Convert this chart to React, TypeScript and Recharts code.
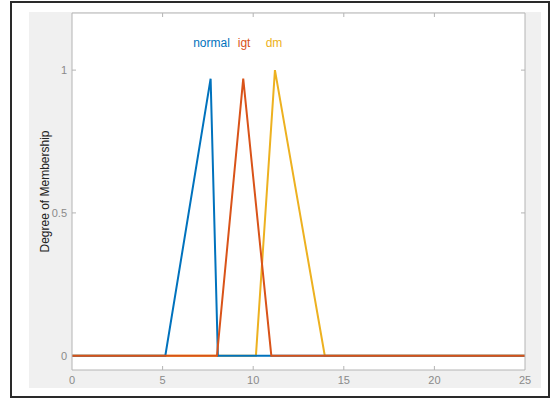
import React from "react";
import { LineChart, Line, XAxis, YAxis, CartesianGrid, ReferenceDot } from "recharts";

// membership functions (x, degree)
const normalX = [0, 5.15, 7.65, 8.05, 25];
const normalY = [0, 0, 0.97, 0, 0];
const igtX = [0, 8.0, 9.45, 11.0, 25];
const igtY = [0, 0, 0.97, 0, 0];
const dmX = [0, 10.15, 11.2, 13.95, 25];
const dmY = [0, 0, 1, 0, 0];

const xTicks = [0, 5, 10, 15, 20, 25];
const yTicks = [0, 0.5, 1];

const mfNames = ["normal", "igt", "dm"];
const mfNameX = [7.7, 9.5, 11.15];
const mfNameY = 1.095;

const BLUE = "#0072BD";
const ORANGE = "#D95319";
const YELLOW = "#EDB120";
const mfColors = [BLUE, ORANGE, YELLOW];

const AXIS = "#b4b4b4";
const TICK_TEXT = "#8a8a8a";

const toPoints = (xs: number[], ys: number[]) => xs.map((x, i) => ({ x, y: ys[i] }));

const normal = toPoints(normalX, normalY);
const igt = toPoints(igtX, igtY);
const dm = toPoints(dmX, dmY);

const inner = (v: number, ends: number[]) => v !== ends[0] && v !== ends[ends.length - 1];

const BottomTick = (props: any) => {
  const { x, y, payload } = props;
  return (
    <g>
      {inner(payload.value, xTicks) && <line x1={x} x2={x} y1={y} y2={y - 4} stroke={AXIS} />}
      <text x={x} y={y + 14} textAnchor="middle" fontSize={11} fill={TICK_TEXT} fontFamily="Liberation Sans, Arial, sans-serif">
        {payload.value}
      </text>
    </g>
  );
};

const TopTick = (props: any) => {
  const { x, y, payload } = props;
  if (!inner(payload.value, xTicks)) return <g />;
  return <line x1={x} x2={x} y1={y} y2={y + 4} stroke={AXIS} />;
};

const LeftTick = (props: any) => {
  const { x, y, payload } = props;
  return (
    <g>
      {payload.value !== 0 && <line x1={x} x2={x + 4} y1={y} y2={y} stroke={AXIS} />}
      <text x={x - 5} y={y + 4} textAnchor="end" fontSize={11} fill={TICK_TEXT} fontFamily="Liberation Sans, Arial, sans-serif">
        {payload.value}
      </text>
    </g>
  );
};

const RightTick = (props: any) => {
  const { x, y, payload } = props;
  if (payload.value === 0) return <g />;
  return <line x1={x} x2={x - 4} y1={y} y2={y} stroke={AXIS} />;
};

export default function App() {
  return (
    <div style={{ position: "absolute", left: 0, top: 0, width: 555, height: 402, background: "#fff" }}>
      <div
        style={{
          position: "absolute",
          left: 10,
          top: 1,
          width: 540,
          height: 397,
          border: "2px solid #2a2a2a",
          boxSizing: "border-box",
        }}
      />
      <div style={{ position: "absolute", left: 29, top: 12, width: 512, height: 376, background: "#f0f0f0" }} />
      <div style={{ position: "absolute", left: 0, top: 0 }}>
        <LineChart width={555} height={402} margin={{ top: 12, right: 28, bottom: 12, left: 32 }}>
          <CartesianGrid fill="#fff" horizontal={false} vertical={false} />
          <XAxis
            dataKey="x"
            type="number"
            domain={[0, 25]}
            ticks={xTicks}
            allowDataOverflow
            height={20}
            stroke={AXIS}
            tickLine={false}
            tickSize={0}
            tickMargin={0}
            tick={<BottomTick />}
          />
          <XAxis
            xAxisId="top"
            orientation="top"
            dataKey="x"
            type="number"
            domain={[0, 25]}
            ticks={xTicks}
            allowDataOverflow
            height={1}
            stroke={AXIS}
            tickLine={false}
            tickSize={0}
            tickMargin={0}
            tick={<TopTick />}
          />
          <YAxis
            type="number"
            domain={[-0.05, 1.2]}
            ticks={yTicks}
            allowDataOverflow
            width={40}
            stroke={AXIS}
            tickLine={false}
            tickSize={0}
            tickMargin={0}
            tick={<LeftTick />}
            label={{
              value: "Degree of Membership",
              angle: -90,
              position: "center",
              dx: -7,
              fill: "#222",
              fontSize: 12,
              fontFamily: "Liberation Sans Narrow, Arial Narrow, Liberation Sans, sans-serif",
            }}
          />
          <YAxis
            yAxisId="right"
            orientation="right"
            type="number"
            domain={[-0.05, 1.2]}
            ticks={yTicks}
            allowDataOverflow
            width={2}
            stroke={AXIS}
            tickLine={false}
            tickSize={0}
            tickMargin={0}
            tick={<RightTick />}
          />
          <Line data={dm} dataKey="y" type="linear" stroke={YELLOW} strokeWidth={2} dot={false} isAnimationActive={false} />
          <Line data={normal} dataKey="y" type="linear" stroke={BLUE} strokeWidth={2} dot={false} isAnimationActive={false} />
          <Line data={igt} dataKey="y" type="linear" stroke={ORANGE} strokeWidth={2} dot={false} isAnimationActive={false} />
          {mfNames.map((n, i) => (
            <ReferenceDot
              key={n}
              x={mfNameX[i]}
              y={mfNameY}
              r={0}
              fillOpacity={0}
              strokeOpacity={0}
              label={{
                value: n,
                position: "center",
                fill: mfColors[i],
                fontSize: 12,
                fontFamily: "Liberation Sans, Arial, sans-serif",
              }}
            />
          ))}
        </LineChart>
      </div>
    </div>
  );
}
